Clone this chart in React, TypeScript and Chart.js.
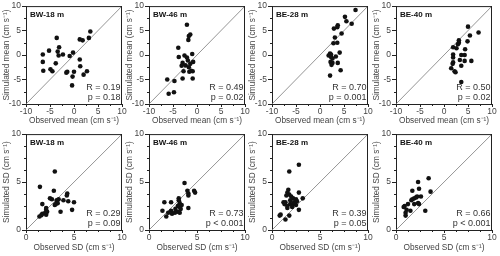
import React, { useEffect, useRef } from 'react';
import { Chart, registerables } from 'chart.js';
Chart.register(...registerables);

const FONT = '"Liberation Sans Narrow", "Liberation Sans", Arial, sans-serif';

const meanTicks = [-10, -5, 0, 5, 10];
const meanMinor = [-7.5, -2.5, 2.5, 7.5];
const sdTicks = [0, 5, 10];
const sdMinor = [1.25, 2.5, 3.75, 6.25, 7.5, 8.75];

// BW-18 m, mean
const bw18MeanObs = [-6.5, -6.5, -6.4, -5.2, -4.9, -4.5, -3.8, -3.4, -3.1, -3.2, -3.6, -2.3, -1.6, -1.4, -0.9, -0.2, -0.3, -0.4, 0.0, 1.2, 1.8, 3.1, 3.4, 1.2, 1.3, 2.0, 2.7];
const bw18MeanSim = [0.1, -1.4, -3.2, 0.9, -2.9, -3.3, -1.7, 0.7, 1.6, -0.1, 3.5, 0.1, -3.6, -3.4, -0.2, 0.5, -4.4, -6.2, -3.4, 3.2, 3.0, 3.5, 4.8, -0.9, -2.3, -4.0, -3.3];
// BW-46 m, mean
const bw46MeanObs = [-2.1, -1.7, -1.4, -1.8, -3.9, -3.8, -1.0, -2.6, -2.1, -1.9, -3.0, -3.2, -2.4, -0.8, -1.4, -1.7, -2.8, -1.6, -1.2, -0.9, -3.0, -0.9, -4.7, -6.2, -5.9, -4.8];
const bw46MeanSim = [6.2, 3.9, 4.2, 3.1, 1.5, -0.4, 0.2, -0.1, -0.5, -1.1, -1.6, -2.2, -2.1, -1.4, -1.8, -2.5, -3.3, -3.4, -3.2, -3.3, -4.8, -4.8, -5.3, -5.0, -7.9, -7.6];
// BE-28 m, mean
const be28MeanObs = [7.4, 5.2, 5.5, 6.6, 3.7, 3.6, 2.9, 4.5, 3.1, 3.6, 2.8, 2.1, 2.3, 1.8, 2.3, 3.3, 4.1, 2.6, 2.2, 2.6, 3.7, 2.4, 4.3, 2.1];
const be28MeanSim = [9.2, 7.8, 6.9, 6.4, 6.1, 5.7, 5.4, 4.4, 3.6, 2.5, 2.4, 0.3, 0.1, -0.1, -0.4, -0.3, 0.5, -0.7, -1.4, -1.6, -1.6, -2.0, -3.1, -4.2];
// BE-40 m, mean
const be40MeanObs = [5.0, 7.2, 5.4, 4.9, 3.1, 3.1, 2.9, 2.6, 1.9, 4.4, 1.9, 3.6, 4.3, 1.9, 3.3, 1.9, 1.8, 4.3, 5.7, 3.6, 1.5, 2.2, 2.4, 3.6];
const be40MeanSim = [5.8, 4.6, 4.0, 2.8, 3.0, 2.5, 2.2, 1.4, 1.6, 1.2, 0.1, 0.0, 0.0, -0.5, -1.0, -1.5, -1.8, -1.2, -1.2, -2.2, -2.7, -3.3, -3.5, -5.5];
// BW-18 m, SD
const bw18SdObs = [3.0, 1.45, 2.9, 4.3, 4.25, 2.5, 2.7, 3.2, 3.4, 3.9, 4.4, 5.0, 3.3, 3.0, 1.7, 2.1, 2.1, 2.2, 4.8, 3.6, 1.7, 2.1, 1.6, 1.4, 2.0, 3.1];
const bw18SdSim = [6.1, 4.5, 4.1, 3.8, 3.6, 3.3, 3.2, 3.1, 3.2, 3.1, 3.0, 2.9, 2.8, 2.6, 2.7, 2.3, 2.1, 1.9, 2.1, 1.9, 1.7, 1.6, 1.55, 1.4, 1.8, 2.7];
// BW-46 m, SD
const bw46SdObs = [3.7, 4.0, 4.7, 4.8, 4.1, 4.1, 3.1, 3.1, 2.3, 1.6, 3.2, 3.4, 3.2, 3.0, 3.3, 4.1, 2.75, 2.3, 3.0, 3.2, 2.7, 1.4, 2.4, 1.8, 2.0];
const bw46SdSim = [4.9, 4.1, 4.1, 3.9, 3.8, 3.6, 3.3, 3.1, 2.9, 2.9, 2.8, 2.6, 2.4, 2.5, 2.2, 2.3, 2.2, 2.0, 1.9, 1.8, 1.8, 2.0, 1.7, 1.4, 1.8];
// BE-28 m, SD
const be28SdObs = [2.8, 1.8, 1.7, 1.6, 1.8, 1.5, 2.0, 2.2, 2.5, 2.6, 3.2, 2.8, 1.2, 1.3, 1.6, 1.9, 2.2, 2.1, 1.6, 2.5, 2.3, 0.9, 0.8, 1.4, 1.8, 2.8, 1.9, 1.4];
const be28SdSim = [6.8, 6.1, 4.2, 3.9, 3.7, 3.6, 3.5, 3.3, 3.2, 3.0, 3.3, 3.9, 2.9, 2.7, 2.5, 2.7, 2.7, 2.4, 2.3, 2.6, 2.9, 1.6, 1.5, 1.1, 1.5, 2.1, 3.1, 2.9];
// BE-40 m, SD
const be40SdObs = [3.4, 2.3, 2.4, 1.7, 3.6, 2.6, 2.2, 1.9, 1.7, 1.6, 2.3, 1.9, 1.25, 0.9, 0.8, 1.5, 1.1, 1.0, 1.0, 3.05, 2.4, 2.1];
const be40SdSim = [5.4, 5.0, 4.3, 4.1, 4.0, 3.5, 3.5, 3.3, 3.2, 3.1, 2.8, 2.7, 2.7, 2.5, 2.4, 2.0, 2.1, 1.8, 1.5, 2.0, 2.7, 3.4];

const panelLabels = ['BW-18 m', 'BW-46 m', 'BE-28 m', 'BE-40 m'];
const meanR = ['R = 0.19', 'R = 0.49', 'R = 0.70', 'R = 0.50'];
const meanP = ['p = 0.18', 'p = 0.02', 'p = 0.001', 'p = 0.02'];
const sdR = ['R = 0.29', 'R = 0.73', 'R = 0.39', 'R = 0.66'];
const sdP = ['p = 0.09', 'p < 0.001', 'p = 0.05', 'p < 0.001'];

type Cfg = {
  label: string; obs: number[]; sim: number[]; r: string; p: string;
  kind: 'mean' | 'sd'; left: number; top: number;
};

const CW = 129;
const CH = 128;
const plotLefts = [26, 149, 272, 396];

const panels: Cfg[] = [
  { label: panelLabels[0], obs: bw18MeanObs, sim: bw18MeanSim, r: meanR[0], p: meanP[0], kind: 'mean', left: plotLefts[0], top: 0 },
  { label: panelLabels[1], obs: bw46MeanObs, sim: bw46MeanSim, r: meanR[1], p: meanP[1], kind: 'mean', left: plotLefts[1], top: 0 },
  { label: panelLabels[2], obs: be28MeanObs, sim: be28MeanSim, r: meanR[2], p: meanP[2], kind: 'mean', left: plotLefts[2], top: 0 },
  { label: panelLabels[3], obs: be40MeanObs, sim: be40MeanSim, r: meanR[3], p: meanP[3], kind: 'mean', left: plotLefts[3], top: 0 },
  { label: panelLabels[0], obs: bw18SdObs, sim: bw18SdSim, r: sdR[0], p: sdP[0], kind: 'sd', left: plotLefts[0], top: 128 },
  { label: panelLabels[1], obs: bw46SdObs, sim: bw46SdSim, r: sdR[1], p: sdP[1], kind: 'sd', left: plotLefts[1], top: 128 },
  { label: panelLabels[2], obs: be28SdObs, sim: be28SdSim, r: sdR[2], p: sdP[2], kind: 'sd', left: plotLefts[2], top: 128 },
  { label: panelLabels[3], obs: be40SdObs, sim: be40SdSim, r: sdR[3], p: sdP[3], kind: 'sd', left: plotLefts[3], top: 128 },
];

const decoPlugin = {
  id: 'panelDeco',
  afterDraw(chart: any) {
    const cfg = chart.options.plugins.panelDeco;
    if (!cfg) return;
    const { ctx, chartArea: a, scales } = chart;
    const xs = scales.x;
    const ys = scales.y;
    ctx.save();
    ctx.strokeStyle = '#222';
    ctx.lineWidth = 1;
    ctx.beginPath();
    ctx.moveTo(a.left, a.top + 0.5);
    ctx.lineTo(a.right, a.top + 0.5);
    ctx.moveTo(a.right - 0.5, a.top);
    ctx.lineTo(a.right - 0.5, a.bottom);
    // minor ticks
    for (const v of cfg.minor) {
      const px = Math.round(xs.getPixelForValue(v)) + 0.5;
      ctx.moveTo(px, a.bottom);
      ctx.lineTo(px, a.bottom + 2);
      const py = Math.round(ys.getPixelForValue(v)) + 0.5;
      ctx.moveTo(a.left, py);
      ctx.lineTo(a.left - 2, py);
    }
    ctx.stroke();
    ctx.fillStyle = '#111';
    ctx.textBaseline = 'middle';
    ctx.textAlign = 'left';
    ctx.font = `bold 8px ${FONT}`;
    ctx.fillText(cfg.label, a.left + 4, a.top + 9);
    ctx.font = `9px ${FONT}`;
    ctx.fillStyle = '#333';
    ctx.textAlign = 'right';
    ctx.fillText(cfg.r, a.right - 1.5, a.bottom - 16);
    ctx.fillText(cfg.p, a.right - 1.5, a.bottom - 6.5);
    ctx.restore();
  },
};

function Panel({ cfg }: { cfg: Cfg }) {
  const ref = useRef<HTMLCanvasElement>(null);
  useEffect(() => {
    const isMean = cfg.kind === 'mean';
    const min = isMean ? -10 : 0;
    const max = 10;
    const major = isMean ? meanTicks : sdTicks;
    const minor = isMean ? meanMinor : sdMinor;
    const xAxisH = isMean ? 24 : 26;
    const xTitleText = isMean ? 'Observed mean (cm s\u207B\u00B9)' : 'Observed SD (cm s\u207B\u00B9)';
    const yTitleText = isMean ? 'Simulated mean (cm s\u207B\u00B9)' : 'Simulated SD (cm s\u207B\u00B9)';
    const tickFont = { family: FONT, size: 8.5 };
    const chart = new Chart(ref.current as HTMLCanvasElement, {
      type: 'scatter',
      data: {
        datasets: [
          {
            type: 'line',
            data: [{ x: min, y: min }, { x: max, y: max }],
            borderColor: '#7a7a7a',
            borderWidth: 0.8,
            pointRadius: 0,
            order: 2,
          } as any,
          {
            data: cfg.obs.map((x, i) => ({ x, y: cfg.sim[i] })),
            backgroundColor: '#111',
            borderColor: '#111',
            borderWidth: 0,
            pointRadius: 2.3,
            order: 1,
          },
        ],
      },
      options: {
        animation: false,
        responsive: false,
        events: [],
        layout: { padding: { top: 6, right: CW - 26 - 96, left: 0, bottom: 0 } },
        plugins: {
          legend: { display: false },
          tooltip: { enabled: false },
          panelDeco: { label: cfg.label, r: cfg.r, p: cfg.p, minor },
        } as any,
        scales: {
          x: {
            type: 'linear',
            min,
            max,
            afterBuildTicks: (s: any) => { s.ticks = major.map((v) => ({ value: v })); },
            afterFit: (s: any) => { s.height = xAxisH; },
            grid: { drawOnChartArea: false, tickLength: 3, tickColor: '#222', tickWidth: 1 },
            border: { display: true, color: '#222', width: 1 },
            ticks: { font: tickFont, color: '#444', padding: 0, autoSkip: false, maxRotation: 0 },
            title: {
              display: true, text: xTitleText, color: '#444',
              font: { family: FONT, size: 8.3 },
              padding: { top: 0, bottom: isMean ? 2.8 : 3.8 },
            },
          },
          y: {
            type: 'linear',
            min,
            max,
            afterBuildTicks: (s: any) => { s.ticks = major.map((v) => ({ value: v })); },
            afterFit: (s: any) => { s.width = 26; },
            grid: { drawOnChartArea: false, tickLength: 4, tickColor: '#222', tickWidth: 1 },
            border: { display: true, color: '#222', width: 1 },
            ticks: { font: tickFont, color: '#444', padding: 1, autoSkip: false },
            title: {
              display: true, text: yTitleText, color: '#444',
              font: { family: FONT, size: 8.3 },
              padding: { top: 1.5, bottom: 0 },
            },
          },
        },
      },
      plugins: [decoPlugin],
    });
    return () => chart.destroy();
  }, [cfg]);
  return (
    <canvas
      ref={ref}
      width={CW}
      height={CH}
      style={{ position: 'absolute', left: cfg.left - 26, top: cfg.top, width: CW, height: CH }}
    />
  );
}

export default function App() {
  return (
    <div style={{ position: 'absolute', left: 0, top: 0, width: 500, height: 256, background: '#fff', overflow: 'hidden' }}>
      {panels.map((c, i) => <Panel key={i} cfg={c} />)}
    </div>
  );
}
